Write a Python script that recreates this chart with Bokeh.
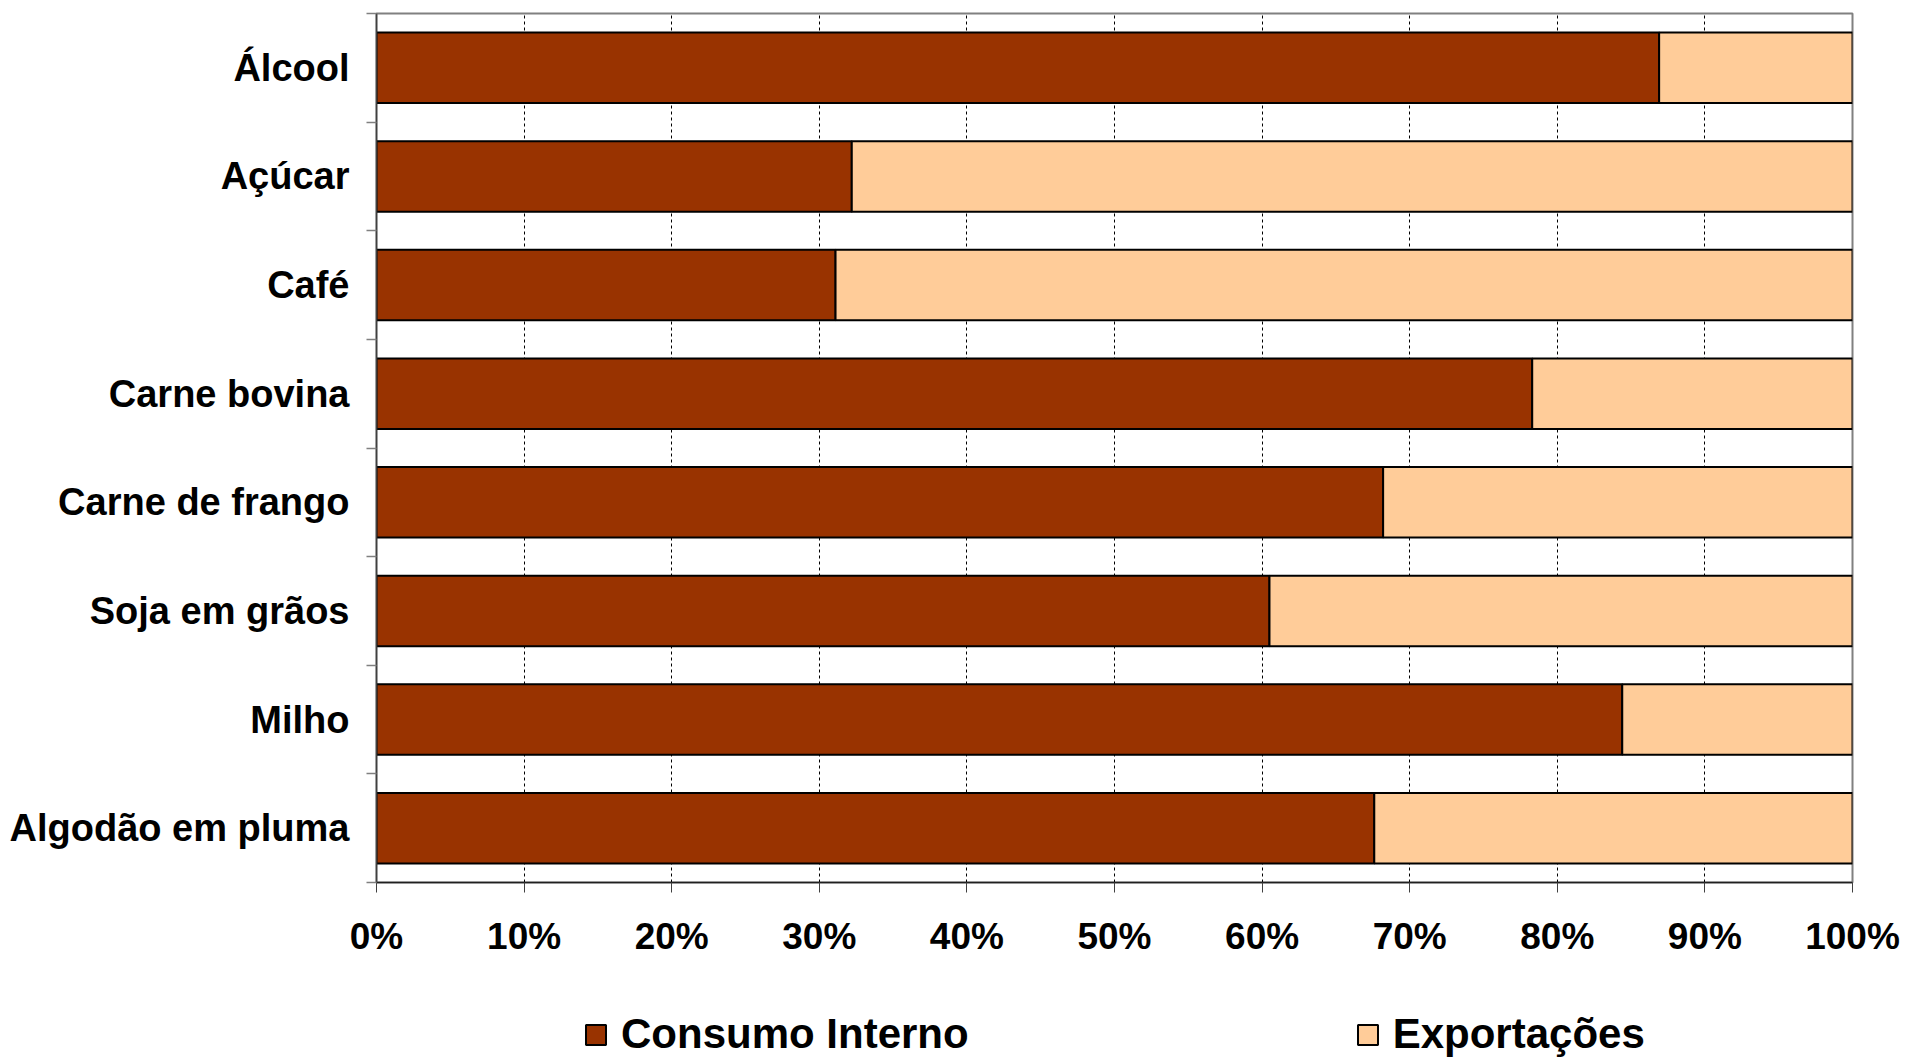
from bokeh.plotting import figure
from bokeh.layouts import column
from bokeh.models import ColumnDataSource, FixedTicker, PrintfTickFormatter, Legend, LegendItem, Range1d
from bokeh.embed import file_html
from bokeh.resources import INLINE

categories = ["Álcool", "Açúcar", "Café", "Carne bovina", "Carne de frango",
              "Soja em grãos", "Milho", "Algodão em pluma"]
consumo_interno = [86.9, 32.2, 31.1, 78.3, 68.2, 60.5, 84.4, 67.6]
exportacoes = [13.1, 67.8, 68.9, 21.7, 31.8, 39.5, 15.6, 32.4]
x_ticks = [0, 10, 20, 30, 40, 50, 60, 70, 80, 90, 100]
series_names = ["Consumo Interno", "Exportações"]
colors = ["#993300", "#FFCC99"]

n = len(categories)
ypos = [n - i - 0.5 for i in range(n)]
source = ColumnDataSource(dict(y=ypos, cat=categories, consumo=consumo_interno, export=exportacoes))
stackers = ["consumo", "export"]

FONT = "Liberation Sans"
W = 1901

p = figure(width=W, height=970, output_backend="svg", toolbar_location=None,
           x_range=Range1d(0, 100), y_range=Range1d(0, n),
           min_border_left=376, min_border_right=49, min_border_top=13, min_border_bottom=88)

renderers = p.hbar_stack(stackers, y="y", height=0.65, source=source,
                         color=colors, line_color="black", line_width=2)

# x axis
p.xaxis.ticker = FixedTicker(ticks=x_ticks)
p.xaxis.formatter = PrintfTickFormatter(format="%d%%")
p.xaxis.major_label_text_font = FONT
p.xaxis.major_label_text_font_style = "bold"
p.xaxis.major_label_text_font_size = "37px"
p.xaxis.major_label_text_color = "black"
p.xaxis.major_tick_out = 10
p.xaxis.major_tick_in = 0
p.xaxis.major_tick_line_color = "#404040"
p.xaxis.minor_tick_line_color = None
p.xaxis.axis_line_color = "#202020"
p.xaxis.axis_line_width = 1.5
p.xaxis.major_label_standoff = 23

# y axis: labels at band centres, ticks at band boundaries
boundaries = list(range(n + 1))
p.yaxis.ticker = FixedTicker(ticks=ypos, minor_ticks=boundaries)
p.yaxis.major_label_overrides = {y: c for y, c in zip(ypos, categories)}
p.yaxis.major_tick_line_color = None
p.yaxis.major_tick_out = 0
p.yaxis.major_tick_in = 0
p.yaxis.minor_tick_out = 10
p.yaxis.minor_tick_in = 0
p.yaxis.minor_tick_line_color = "#808080"
p.yaxis.minor_tick_line_width = 1.5
p.yaxis.axis_line_color = "#404040"
p.yaxis.axis_line_width = 1.5
p.yaxis.major_label_text_font = FONT
p.yaxis.major_label_text_font_style = "bold"
p.yaxis.major_label_text_font_size = "38px"
p.yaxis.major_label_text_color = "black"
p.yaxis.major_label_standoff = 17

# grid
p.xgrid.grid_line_color = "black"
p.xgrid.grid_line_dash = "3 3"
p.xgrid.grid_line_width = 1
p.ygrid.grid_line_color = None

p.outline_line_color = "#808080"
p.outline_line_width = 2
p.background_fill_color = "white"
p.border_fill_color = "white"

# legend strip below the chart: same series, renderers hidden so only the legend swatches show
p2 = figure(width=W, height=88, output_backend="svg", toolbar_location=None,
            x_axis_type=None, y_axis_type=None,
            x_range=Range1d(0, 100), y_range=Range1d(-2, -1),
            min_border_left=0, min_border_right=0, min_border_top=0, min_border_bottom=0)
p2.outline_line_color = None
p2.xgrid.visible = False
p2.ygrid.visible = False
p2.border_fill_color = "white"
leg_renderers = p2.hbar_stack(stackers, y="y", height=0.65, source=source,
                              color=colors, line_color="black", line_width=2)
for r in leg_renderers:
    r.visible = False

legend = Legend(items=[LegendItem(label=nm, renderers=[r]) for nm, r in zip(series_names, leg_renderers)],
                location=(207, 0), orientation="horizontal", padding=0, margin=0, spacing=386,
                glyph_width=25, glyph_height=25, label_standoff=13, click_policy="none",
                label_text_font=FONT, label_text_font_style="bold",
                label_text_font_size="42px", label_text_color="black",
                border_line_color=None, background_fill_alpha=0)
p2.add_layout(legend, "center")

layout = column(p, p2, spacing=0)
open("out.html", "w").write(file_html(layout, INLINE))
